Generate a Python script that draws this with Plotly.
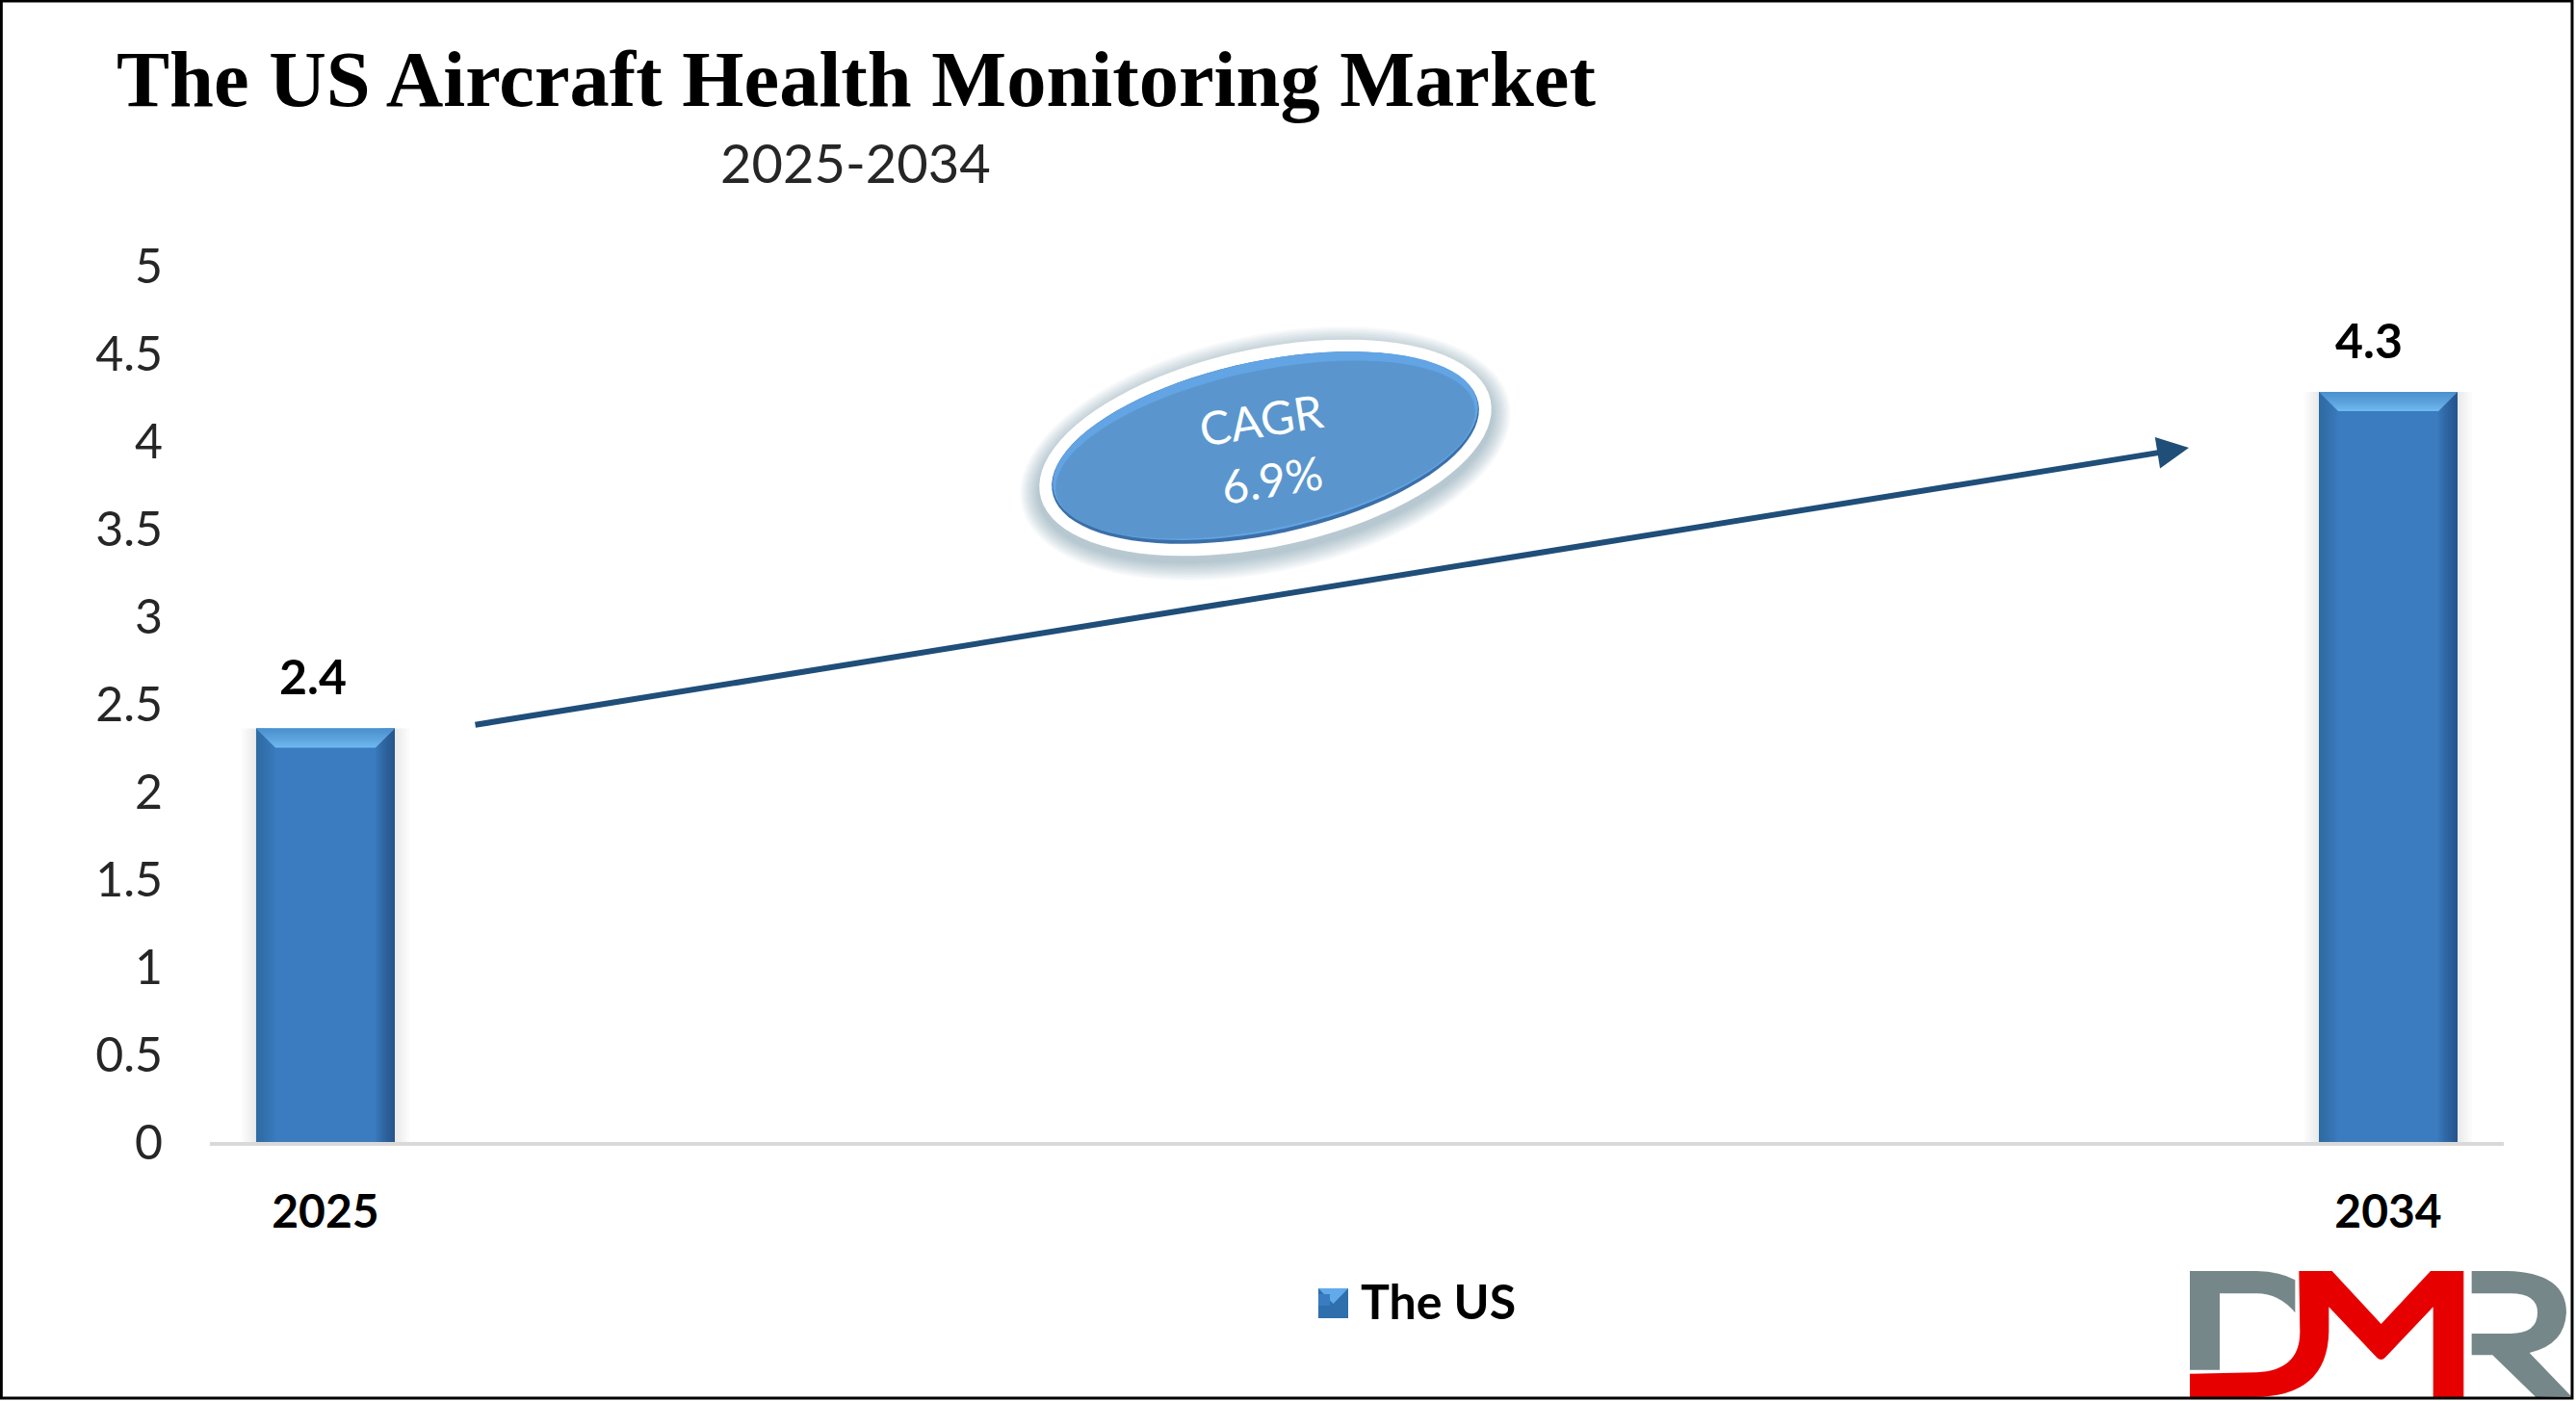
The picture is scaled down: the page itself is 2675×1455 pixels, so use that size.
import numpy as np
import plotly.graph_objects as go

W = 2675
H = 1455

years = [2025, 2034]
bar_values = [2.36, 4.28]
bar_labels = ["2.4", "4.3"]
label_shift = [-13, -20]
series_name = "The US"
y_ticks = [0, 0.5, 1, 1.5, 2, 2.5, 3, 3.5, 4, 4.5, 5]
y_tick_labels = ["0", "0.5", "1", "1.5", "2", "2.5", "3", "3.5", "4", "4.5", "5"]

title_text = "The US Aircraft Health Monitoring Market"
subtitle_text = "2025-2034"
cagr_lines = ["CAGR", "6.9%"]

BAR_BLUE = "#3a7cbf"
ARROW_BLUE = "#1f4e79"
GREY = "#76878a"
RED = "#e60000"
BAR_WIDTH = 0.605
BEVEL_X = 20 / 238
BEVEL_Y = 20 / 182


def px(x):
    return x / W


def py(y):
    return 1 - y / H


def paper_shape(path, color, opacity=1, layer="above"):
    return dict(type="path", xref="paper", yref="paper", path=path, fillcolor=color,
                opacity=opacity, line=dict(width=0), layer=layer)


def ellipse_path(cx, cy, a, b, deg=-12):
    t = np.linspace(0, 2 * np.pi, 90)[:-1]
    r = np.radians(deg)
    xs = cx + a * np.cos(t) * np.cos(r) - b * np.sin(t) * np.sin(r)
    ys = cy + a * np.cos(t) * np.sin(r) + b * np.sin(t) * np.cos(r)
    pts = [f"{px(x):.5f},{py(y):.5f}" for x, y in zip(xs, ys)]
    return "M" + " L".join(pts) + " Z"


def poly_data(points):
    return "M" + " L".join(f"{x:.4f},{y:.4f}" for x, y in points) + " Z"


def data_shape(points, color, opacity=1, layer="above"):
    return dict(type="path", xref="x", yref="y", path=poly_data(points), fillcolor=color,
                opacity=opacity, line=dict(width=0), layer=layer)


# bevel and shadow on each bar, worked out from the bar value
def bar_shapes(year, value):
    x0 = year - BAR_WIDTH / 2
    x1 = year + BAR_WIDTH / 2
    out = []
    steps = 10
    # soft shadow either side
    for i in range(5):
        grow = (5 - i) * 3 / 238
        out.append(data_shape([(x0 - grow, 0), (x0 - grow, value), (x1 + grow, value), (x1 + grow, 0)],
                              "#555555", 0.025, "below"))
    # right and left edges
    for i in range(steps):
        w = BEVEL_X * (steps - i) / steps
        out.append(data_shape([(x1 - w, 0), (x1 - w, value), (x1, value), (x1, 0)], "#163f66", 0.07))
        out.append(data_shape([(x0, 0), (x0, value), (x0 + w, value), (x0 + w, 0)], "#1d4f7d", 0.035))
    # top bevel
    out.append(data_shape([(x0, value), (x1, value), (x1 - BEVEL_X, value - BEVEL_Y),
                           (x0 + BEVEL_X, value - BEVEL_Y)], "#74bdf5"))
    for i in range(steps):
        h = BEVEL_Y * (steps - i) / steps
        out.append(data_shape([(x0, value), (x1, value), (x1 - BEVEL_X * h / BEVEL_Y, value - h),
                               (x0 + BEVEL_X * h / BEVEL_Y, value - h)], "#2a6aa6", 0.06))
    return out


def legend_key_shapes():
    x0, x1, y0, y1 = 1369, 1400, 1338, 1369
    mid = (x0 + x1) / 2
    pt = lambda x, y: f"{px(x):.5f},{py(y):.5f}"
    body = "M" + " L".join([pt(x0, y0), pt(x1, y0), pt(x1, y1), pt(x0, y1)]) + " Z"
    top = "M" + " L".join([pt(x0, y0), pt(x1, y0), pt(mid, y0 + 16)]) + " Z"
    return [paper_shape(body, "#2f6fae"), paper_shape(top, "#62aaea")]


def logo_shapes():
    def p(zx, zy):
        return f"{px(2200 + zx / 3):.5f},{py(1250 + zy / 3):.5f}"

    grey_d = (f"M{p(222, 210)} L{p(430, 210)} Q{p(505, 212)},{p(550, 238)} L{p(550, 340)} "
              f"Q{p(500, 280)},{p(430, 280)} L{p(315, 280)} L{p(315, 518)} L{p(222, 518)} Z")
    red_dm = (f"M{p(222, 530)} L{p(430, 526)} Q{p(565, 520)},{p(565, 400)} L{p(562, 210)} "
              f"L{p(665, 210)} L{p(818, 375)} L{p(972, 210)} L{p(1075, 210)} L{p(1075, 603)} "
              f"L{p(980, 603)} L{p(980, 322)} L{p(830, 480)} Q{p(818, 492)},{p(805, 480)} "
              f"L{p(655, 322)} L{p(655, 400)} Q{p(650, 603)},{p(420, 603)} L{p(222, 603)} Z")
    grey_r = (f"M{p(1100, 210)} L{p(1210, 210)} Q{p(1395, 215)},{p(1395, 340)} "
              f"Q{p(1390, 440)},{p(1280, 465)} L{p(1410, 600)} L{p(1300, 603)} L{p(1165, 472)} "
              f"L{p(1100, 472)} L{p(1100, 405)} L{p(1220, 405)} Q{p(1305, 405)},{p(1305, 340)} "
              f"Q{p(1305, 280)},{p(1220, 280)} L{p(1100, 280)} Z")
    return [paper_shape(grey_d, GREY), paper_shape(red_dm, RED), paper_shape(grey_r, GREY)]


def oval_shapes():
    cx, cy = 1314, 465
    out = []
    # glow round the badge
    for i in range(10):
        grow = 20 - i * 2
        out.append(paper_shape(ellipse_path(cx, cy + 6, 239 + grow, 103 + grow), ARROW_BLUE, 0.035))
    out.append(paper_shape(ellipse_path(cx, cy, 239, 103), "#ffffff"))
    out.append(paper_shape(ellipse_path(cx, cy, 226, 90), "#3b6fa8"))
    out.append(paper_shape(ellipse_path(cx, cy - 2, 225, 88), "#62a4e4"))
    out.append(paper_shape(ellipse_path(cx, cy + 2, 222, 82), "#5a96cd"))
    return out


fig = go.Figure()
fig.add_trace(go.Bar(x=years, y=bar_values, name=series_name, width=BAR_WIDTH,
                     marker=dict(color=BAR_BLUE, line=dict(width=0)), showlegend=True))

shapes = []
for year, value in zip(years, bar_values):
    shapes += bar_shapes(year, value)
shapes += oval_shapes()
shapes += legend_key_shapes()
shapes += logo_shapes()
shapes.append(dict(type="rect", xref="paper", yref="paper", x0=0.0005, x1=0.9985, y0=0.002, y1=0.9993,
                   line=dict(color="#000000", width=3), fillcolor="rgba(0,0,0,0)", layer="above"))

annotations = []
# value labels
for year, value, text, shift in zip(years, bar_values, bar_labels, label_shift):
    annotations.append(dict(x=year, y=value, xref="x", yref="y", text=text, showarrow=False,
                            xanchor="center", yanchor="middle", xshift=shift, yshift=54,
                            font=dict(family="Lato", size=50, color="#000000", weight="bold")))
annotations.append(dict(x=px(888), y=py(168), xref="paper", yref="paper", text=subtitle_text,
                        showarrow=False, xanchor="center", yanchor="middle",
                        font=dict(family="Lato", size=56, color="#262626")))
# growth arrow
annotations.append(dict(x=px(2273), y=py(465), xref="paper", yref="paper", text="",
                        ax=492 - 2273, ay=753 - 465, showarrow=True, arrowhead=2, arrowsize=1.1,
                        arrowwidth=6, arrowcolor=ARROW_BLUE))
annotations.append(dict(x=px(1309), y=py(435), xref="paper", yref="paper", text=cagr_lines[0],
                        showarrow=False, textangle=-9, xanchor="center", yanchor="middle",
                        font=dict(family="Lato", size=48, color="#ffffff")))
annotations.append(dict(x=px(1320), y=py(497), xref="paper", yref="paper", text=cagr_lines[1],
                        showarrow=False, textangle=-9, xanchor="center", yanchor="middle",
                        font=dict(family="Lato", size=48, color="#ffffff")))

fig.update_layout(
    width=W, height=H,
    margin=dict(l=0, r=0, t=0, b=0, autoexpand=False),
    paper_bgcolor="#ffffff", plot_bgcolor="#ffffff",
    title=dict(text=title_text, x=px(121), y=py(81), xref="paper", yref="paper",
               xanchor="left", yanchor="middle",
               font=dict(family="Liberation Serif", size=82.5, color="#000000", weight="bold")),
    xaxis=dict(domain=[px(218), px(2600)], range=[2024.496, 2034.504], tickmode="array",
               tickvals=years, ticktext=[str(y) for y in years], showgrid=False, zeroline=False,
               showline=True, linecolor="#d9d9d9", linewidth=4, ticks="", ticklabelstandoff=27,
               tickfont=dict(family="Lato", size=48, color="#000000", weight="bold")),
    yaxis=dict(domain=[py(1186), py(276)], range=[0, 5], tickmode="array", tickvals=y_ticks,
               ticktext=y_tick_labels, showgrid=False, zeroline=False, showline=False, ticks="",
               ticklabelstandoff=48, tickfont=dict(family="Lato", size=50, color="#262626")),
    showlegend=True,
    legend=dict(x=px(1337), y=py(1350), xanchor="left", yanchor="middle", bgcolor="rgba(0,0,0,0)",
                itemwidth=66, font=dict(family="Lato", size=50, color="#000000", weight="bold")),
    shapes=shapes,
    annotations=annotations,
)

fig.write_html("out.html", config={"displayModeBar": False},
               post_script="document.body.style.margin='0';")
